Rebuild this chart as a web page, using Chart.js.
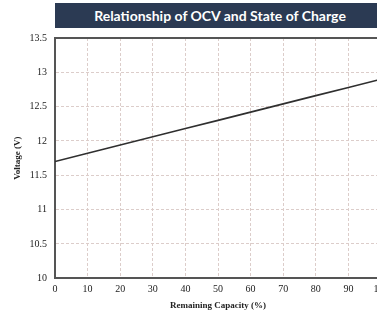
<!DOCTYPE html>
<html>
<head>
<meta charset="utf-8">
<script src="https://cdn.jsdelivr.net/npm/chart.js@4.4.0/dist/chart.umd.min.js"></script>
<style>
  html, body { margin: 0; padding: 0; background: #fff; overflow: hidden; }
  #wrap { position: relative; width: 377px; height: 315px; overflow: hidden; }
  #box { position: absolute; left: 0; top: 0; width: 398px; height: 315px; }
  #banner {
    position: absolute; left: 55px; top: 3px; width: 340px; height: 25px;
    background: #2b3a53; color: #fff; font: bold 14px Lato, "Liberation Sans", sans-serif;
    line-height: 25px; text-align: center; padding-right: 10px; box-sizing: border-box;
  }
</style>
</head>
<body>
<div id="wrap">
  <div id="box"><canvas id="ocvChart"></canvas></div>
  <div id="banner">Relationship of OCV and State of Charge</div>
</div>
<script>
// remaining capacity (%) and the open-circuit voltage
var capacity = [0, 10, 20, 30, 40, 50, 60, 70, 80, 90, 100];
var voltage = [11.7, 11.82, 11.94, 12.06, 12.18, 12.3, 12.42, 12.54, 12.66, 12.78, 12.9];

var xTicks = [0, 10, 20, 30, 40, 50, 60, 70, 80, 90, 100];
var yTicks = [10, 10.5, 11, 11.5, 12, 12.5, 13, 13.5];

var tickFont = { family: '"Liberation Serif", "DejaVu Serif", serif', size: 10 };
var titleFont = { family: '"Liberation Serif", "DejaVu Serif", serif', size: 9, weight: 'bold' };
var gridColor = '#dccdca';
var frameColor = '#555';

// top and right edges of the frame
var frameTop = {
  id: 'frameTop',
  afterDraw: function(chart) {
    var a = chart.chartArea, ctx = chart.ctx;
    ctx.save();
    ctx.strokeStyle = frameColor;
    ctx.lineWidth = 2;
    ctx.beginPath();
    ctx.moveTo(a.left, a.top);
    ctx.lineTo(a.right, a.top);
    ctx.lineTo(a.right, a.bottom);
    ctx.stroke();
    ctx.restore();
  }
};

var ctx = document.getElementById('ocvChart').getContext('2d');
new Chart(ctx, {
  type: 'line',
  data: {
    datasets: [{
      data: capacity.map(function(c, i) { return { x: c, y: voltage[i] }; }),
      borderColor: '#2f2f2f',
      borderWidth: 1.6,
      pointRadius: 0,
      fill: false
    }]
  },
  options: {
    responsive: true,
    maintainAspectRatio: false,
    animation: false,
    layout: { padding: { top: 38, right: 17, left: 0, bottom: 4 } },
    plugins: { legend: { display: false }, tooltip: { enabled: false } },
    scales: {
      x: {
        type: 'linear',
        min: 0, max: 100,
        afterBuildTicks: function(axis) { axis.ticks = xTicks.map(function(v) { return { value: v }; }); },
        ticks: { color: '#222', font: tickFont, padding: 5, maxRotation: 0 },
        grid: { color: gridColor, lineWidth: 1, drawTicks: false },
        border: { color: frameColor, width: 2, dash: [3, 2] },
        title: { display: true, text: 'Remaining Capacity (%)', color: '#222', font: titleFont, padding: { top: 0, bottom: 0 } }
      },
      y: {
        min: 10, max: 13.5,
        afterBuildTicks: function(axis) { axis.ticks = yTicks.map(function(v) { return { value: v }; }); },
        afterFit: function(axis) { axis.width = 55; },
        ticks: { color: '#222', font: tickFont, padding: 8, callback: function(v) { return String(v); } },
        grid: { color: gridColor, lineWidth: 1, drawTicks: false },
        border: { color: frameColor, width: 2, dash: [3, 2] },
        title: { display: true, text: 'Voltage (V)', color: '#222', font: titleFont, padding: { top: 12, bottom: 4 } }
      }
    }
  },
  plugins: [frameTop]
});
</script>
</body>
</html>
